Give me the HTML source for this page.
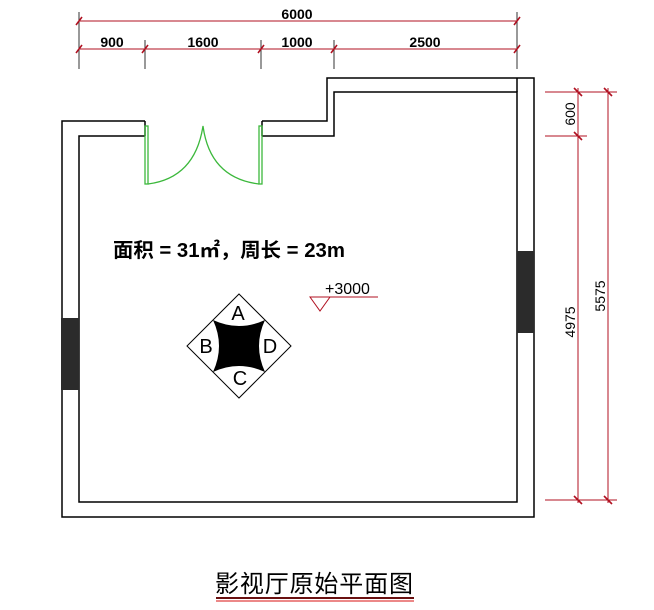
<!DOCTYPE html>
<html><head><meta charset="utf-8"><style>
html,body{margin:0;padding:0;background:#fff;width:654px;height:610px;overflow:hidden}
</style></head><body>
<svg width="654" height="610" viewBox="0 0 654 610" xmlns="http://www.w3.org/2000/svg" font-family="Liberation Sans, sans-serif">
<!-- walls -->
<g fill="none" stroke="#000" stroke-width="1.5">
<polyline points="145,121 62,121 62,517 534,517 534,78 327,78 327,121 262,121"/>
<polyline points="145,136 79,136 79,502 517,502 517,92 334,92 334,136 262,136"/>
<line x1="262" y1="121" x2="262" y2="136"/>
<line x1="145" y1="121" x2="145" y2="136"/>
<line x1="517" y1="78" x2="517" y2="92"/>
</g>
<rect x="61" y="318" width="18" height="72" fill="#2b2b2b"/>
<rect x="517" y="251" width="17" height="82" fill="#2b2b2b"/>
<!-- door -->
<g fill="none" stroke="#3cb83c" stroke-width="1.3">
<rect x="145" y="126" width="3" height="58"/>
<rect x="259" y="126" width="3" height="58"/>
<path d="M148,184 Q195,178 203,126 Q210,178 259,184"/>
</g>
<!-- top dims -->
<g stroke="#b01020" stroke-width="1">
<line x1="79" y1="21" x2="517" y2="21"/>
<line x1="79" y1="49" x2="517" y2="49"/>
</g>
<g stroke="#333" stroke-width="1">
<line x1="79" y1="12" x2="79" y2="69"/><line x1="517" y1="12" x2="517" y2="69"/>
<line x1="145" y1="40" x2="145" y2="69"/><line x1="261" y1="40" x2="261" y2="69"/><line x1="334" y1="40" x2="334" y2="69"/>
</g>
<g stroke="#b01020" stroke-width="1.6">
<line x1="76" y1="25" x2="82" y2="17"/><line x1="514" y1="25" x2="520" y2="17"/>
<line x1="76" y1="53" x2="82" y2="45"/><line x1="142" y1="53" x2="148" y2="45"/><line x1="258" y1="53" x2="264" y2="45"/><line x1="331" y1="53" x2="337" y2="45"/><line x1="514" y1="53" x2="520" y2="45"/>
</g>
<g font-size="14" fill="#000" text-anchor="middle" font-weight="bold">
<text x="297" y="19">6000</text>
<text x="112" y="47">900</text>
<text x="203" y="47">1600</text>
<text x="297" y="47">1000</text>
<text x="425" y="47">2500</text>
</g>
<!-- right dims -->
<g stroke="#b01020" stroke-width="1">
<line x1="545" y1="92" x2="617" y2="92"/>
<line x1="545" y1="136" x2="587" y2="136"/>
<line x1="545" y1="500" x2="617" y2="500"/>
<line x1="578" y1="88" x2="578" y2="503"/>
<line x1="608" y1="88" x2="608" y2="503"/>
</g>
<g stroke="#b01020" stroke-width="1.6">
<line x1="574" y1="88" x2="582" y2="96"/><line x1="604" y1="88" x2="612" y2="96"/>
<line x1="574" y1="132" x2="582" y2="140"/>
<line x1="574" y1="496" x2="582" y2="504"/><line x1="604" y1="496" x2="612" y2="504"/>
</g>
<g font-size="14" fill="#000" text-anchor="middle">
<text transform="translate(575,114) rotate(-90)">600</text>
<text transform="translate(575,322) rotate(-90)">4975</text>
<text transform="translate(605,296) rotate(-90)">5575</text>
</g>
<!-- area text -->
<text x="113" y="257" font-family="Liberation Sans, Noto Sans CJK SC, sans-serif" font-size="20" font-weight="bold" fill="#000" textLength="232" lengthAdjust="spacingAndGlyphs">面积 = 31㎡，周长 = 23m</text>
<!-- level -->
<line x1="310" y1="297" x2="378" y2="297" stroke="#b01020" stroke-width="1"/>
<polygon points="310,297 330,297 320,311" fill="none" stroke="#b01020" stroke-width="1"/>
<text x="325" y="294" font-size="16" fill="#000">+3000</text>
<!-- diamond -->
<polygon points="239,294 291,346 239,398 187,346" fill="#fff" stroke="#000" stroke-width="1"/>
<path d="M213,320 Q239,332 265,320 Q253,346 265,372 Q239,360 213,372 Q225,346 213,320Z" fill="#000"/>
<g font-size="20" fill="#000" text-anchor="middle">
<text x="238" y="320">A</text>
<text x="206" y="353">B</text>
<text x="270" y="353">D</text>
<text x="240" y="385">C</text>
</g>
<!-- title -->
<text x="215" y="592" font-family="Liberation Sans, Noto Sans CJK SC, sans-serif" font-size="24" fill="#000" textLength="198">影视厅原始平面图</text>
<line x1="216" y1="598" x2="414" y2="598" stroke="#6a1010" stroke-width="2"/>
<line x1="216" y1="601" x2="414" y2="601" stroke="#e04040" stroke-width="1.2"/>
</svg>
</body></html>
